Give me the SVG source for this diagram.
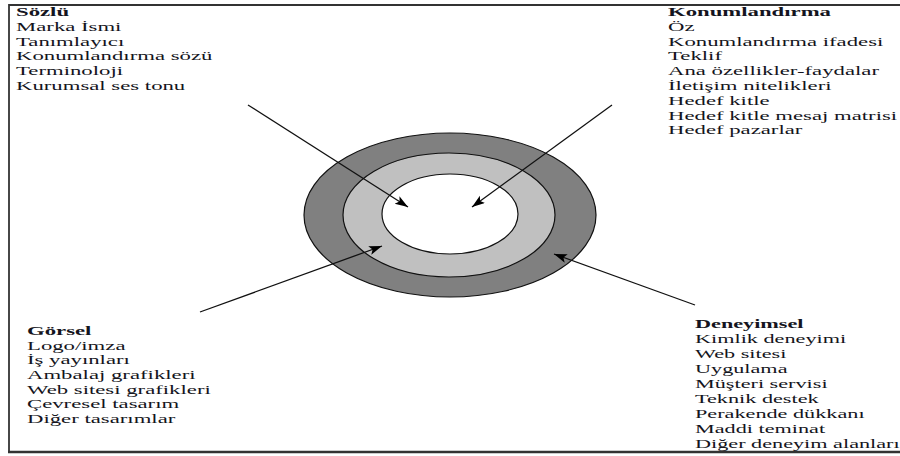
<svg xmlns="http://www.w3.org/2000/svg" width="900" height="456" viewBox="0 0 900 456">
<style>
.t{font-family:"Liberation Serif","Times New Roman",serif;font-size:13px;fill:#141420}
.b{font-weight:bold}
.ln{stroke:#111;stroke-width:1.3;fill:none}
.ring{stroke:#111;stroke-width:1.2}
</style>
<defs>
<marker id="ah" markerUnits="userSpaceOnUse" markerWidth="14" markerHeight="10" refX="13" refY="4.5" orient="auto">
<path d="M0,0 L13,4.5 L0,9 L3,4.5 z" fill="#000"/>
</marker>
</defs>
<rect width="900" height="456" fill="#fff"/>
<g id="frame" stroke="#333" fill="none">
<line x1="9" y1="5" x2="900" y2="5" stroke-width="2.2"/>
<line x1="9" y1="4" x2="9" y2="453" stroke-width="1.8"/>
<line x1="8" y1="452" x2="900" y2="452" stroke-width="2.6"/>
</g>
<g id="rings">
<ellipse class="ring" cx="450" cy="215" rx="146" ry="82" fill="#808080"/>
<ellipse class="ring" cx="449" cy="215" rx="106" ry="62" fill="#c0c0c0"/>
<ellipse class="ring" cx="450" cy="214" rx="68" ry="40" fill="#fff"/>
</g>
<g id="connectors">
<line class="ln" x1="248" y1="105" x2="408" y2="207" marker-end="url(#ah)"/>
<line class="ln" x1="612" y1="105" x2="472" y2="207" marker-end="url(#ah)"/>
<line class="ln" x1="200" y1="312" x2="382" y2="246" marker-end="url(#ah)"/>
<line class="ln" x1="695" y1="305" x2="554" y2="254" marker-end="url(#ah)"/>
</g>
<g id="sozlu" transform="translate(16,0) scale(1.75,1)">
<text class="t b" x="0" y="16">Sözlü</text>
<text class="t" x="0" y="30.8">Marka İsmi</text>
<text class="t" x="0" y="45.6">Tanımlayıcı</text>
<text class="t" x="0" y="60.4">Konumlandırma sözü</text>
<text class="t" x="0" y="75.2">Terminoloji</text>
<text class="t" x="0" y="90">Kurumsal ses tonu</text>
</g>
<g id="konumlandirma" transform="translate(668,0) scale(1.75,1)">
<text class="t b" x="0" y="16">Konumlandırma</text>
<text class="t" x="0" y="30.8">Öz</text>
<text class="t" x="0" y="45.6">Konumlandırma ifadesi</text>
<text class="t" x="0" y="60.4">Teklif</text>
<text class="t" x="0" y="75.2">Ana özellikler-faydalar</text>
<text class="t" x="0" y="90">İletişim nitelikleri</text>
<text class="t" x="0" y="104.8">Hedef kitle</text>
<text class="t" x="0" y="119.6">Hedef kitle mesaj matrisi</text>
<text class="t" x="0" y="134.4">Hedef pazarlar</text>
</g>
<g id="gorsel" transform="translate(27,0) scale(1.75,1)">
<text class="t b" x="0" y="335">Görsel</text>
<text class="t" x="0" y="349.7">Logo/imza</text>
<text class="t" x="0" y="364.4">İş yayınları</text>
<text class="t" x="0" y="379.1">Ambalaj grafikleri</text>
<text class="t" x="0" y="393.8">Web sitesi grafikleri</text>
<text class="t" x="0" y="408.5">Çevresel tasarım</text>
<text class="t" x="0" y="423.2">Diğer tasarımlar</text>
</g>
<g id="deneyimsel" transform="translate(695,0) scale(1.71,1)">
<text class="t b" x="0" y="328">Deneyimsel</text>
<text class="t" x="0" y="343">Kimlik deneyimi</text>
<text class="t" x="0" y="358">Web sitesi</text>
<text class="t" x="0" y="373">Uygulama</text>
<text class="t" x="0" y="388">Müşteri servisi</text>
<text class="t" x="0" y="403">Teknik destek</text>
<text class="t" x="0" y="418">Perakende dükkanı</text>
<text class="t" x="0" y="433">Maddi teminat</text>
<text class="t" x="0" y="448">Diğer deneyim alanları</text>
</g>
</svg>
